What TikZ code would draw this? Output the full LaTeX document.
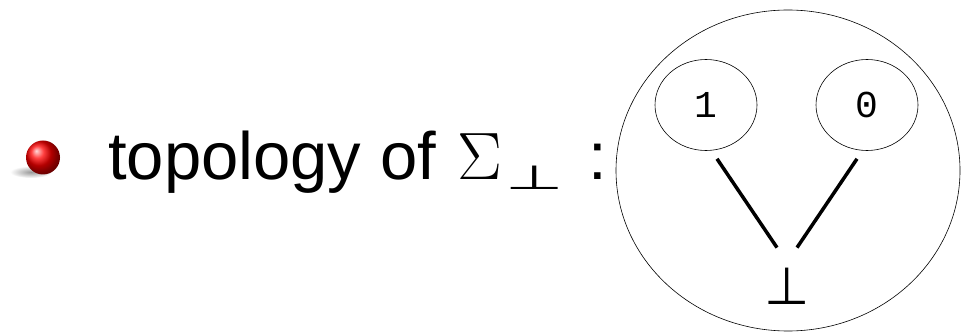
\RequirePackage{fix-cm}
\documentclass[tikz,border=0pt]{standalone}
\usepackage{fontspec}
\setmainfont{Liberation Sans}
\newfontfamily\digitfont{Liberation Mono}
\newfontfamily\symfont{DejaVu Sans}
\usepackage{tikz}
\usetikzlibrary{shapes.geometric, positioning}
\newcommand{\flatbot}{\raisebox{-10pt}{\scalebox{1}[0.5]{\symfont\fontsize{67}{80}\selectfont ⊥}}}

\begin{document}
\begin{tikzpicture}[x=1pt, y=1pt,
	outer/.style={draw, ellipse, line width=0.6pt, minimum width=344pt, minimum height=321pt, inner sep=0pt},
	point/.style={draw, ellipse, line width=0.6pt, minimum width=102pt, minimum height=91pt, inner sep=0pt,
		font=\digitfont\fontsize{38}{44}\selectfont},
	link/.style={line width=3.5pt}]
	\useasboundingbox (0,0) rectangle (961,332);
	% bullet
	\shade[inner color=gray!80, outer color=white] (31,160) ellipse (21pt and 6pt);
	\shade[ball color=red] (43,174.5) circle (17pt);
	\node[anchor=base west, inner sep=0pt, font=\fontsize{67}{80}\selectfont] (title) at (108,152)
		{topology of\hspace{3pt} $\Sigma$\hspace{3pt}\flatbot\hspace{6pt} :};
	% the space and its points
	\node[outer] (space) at (788,161.5) {};
	\node[point] (one) at (706,227) {1};
	\node[point] (zero) at (867,227) {0};
	\node[inner sep=0pt, font=\symfont\fontsize{52}{60}\selectfont] (bot) at (787,46) {⊥};
	\draw[link] ([shift={(11pt,-8pt)}]one.south) -- ([shift={(-10pt,20pt)}]bot.north);
	\draw[link] ([shift={(-10pt,-8pt)}]zero.south) -- ([shift={(10pt,20pt)}]bot.north);
\end{tikzpicture}
\end{document}
